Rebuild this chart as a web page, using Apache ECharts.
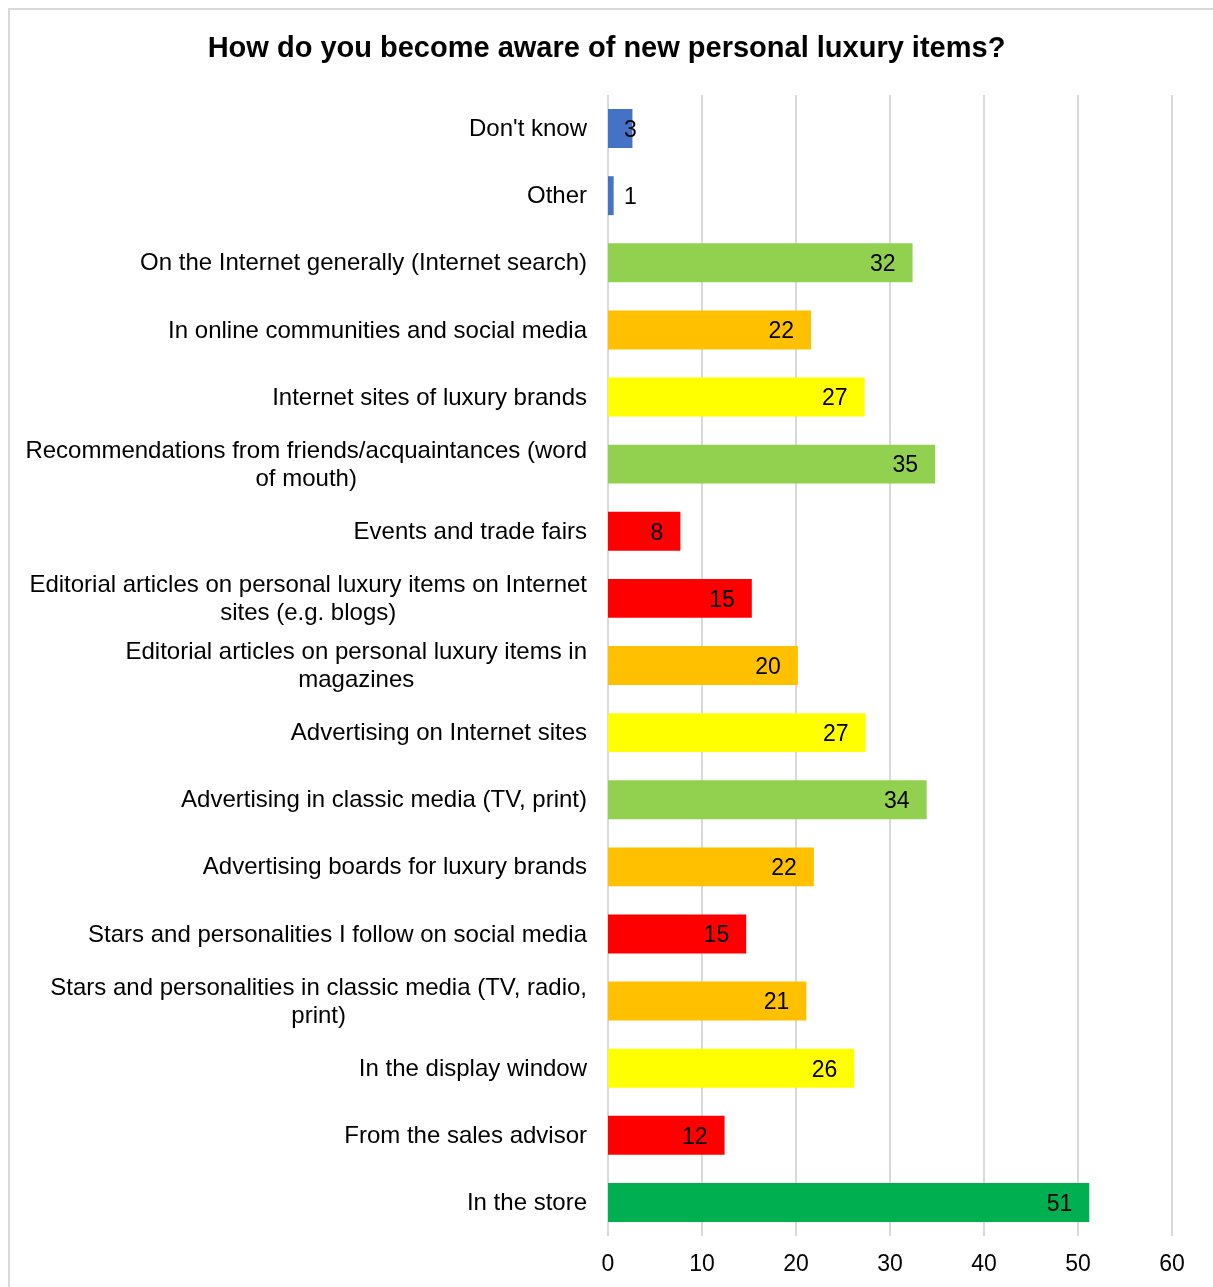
<!DOCTYPE html>
<html>
<head>
<meta charset="utf-8">
<script src="https://cdn.jsdelivr.net/npm/echarts@6/dist/echarts.min.js"></script>
<style>
html,body{margin:0;padding:0;background:#fff;}
#chart{width:1213px;height:1287px;}
</style>
</head>
<body>
<div id="chart"></div>
<script>
const title = "How do you become aware of new personal luxury items?";
const categories = [
  "Don't know",
  "Other",
  "On the Internet generally (Internet search)",
  "In online communities and social media",
  "Internet sites of luxury brands",
  "Recommendations from friends/acquaintances (word of mouth)",
  "Events and trade fairs",
  "Editorial articles on personal luxury items on Internet sites (e.g. blogs)",
  "Editorial articles on personal luxury items in magazines",
  "Advertising on Internet sites",
  "Advertising in classic media (TV, print)",
  "Advertising boards for luxury brands",
  "Stars and personalities I follow on social media",
  "Stars and personalities in classic media (TV, radio, print)",
  "In the display window",
  "From the sales advisor",
  "In the store"
];
const values = [2.6, 0.6, 32.4, 21.6, 27.3, 34.8, 7.7, 15.3, 20.2, 27.4, 33.9, 21.9, 14.7, 21.1, 26.2, 12.4, 51.2];
const barColors = ["#4472C4", "#4472C4", "#92D050", "#FFC000", "#FFFF00", "#92D050", "#FF0000", "#FF0000", "#FFC000", "#FFFF00", "#92D050", "#FFC000", "#FF0000", "#FFC000", "#FFFF00", "#FF0000", "#00B050"];
const xTicks = [0, 10, 20, 30, 40, 50, 60];

const FONT = "Liberation Sans, Arial, sans-serif";
const LABEL_SIZE = 24;
const WRAP_WIDTH = 568;

const ctx = document.createElement('canvas').getContext('2d');
ctx.font = LABEL_SIZE + 'px ' + FONT;
function wrapLines(text) {
  const words = text.split(' ');
  const lines = [];
  let cur = '';
  words.forEach(w => {
    const test = cur ? cur + ' ' + w : w;
    if (cur && ctx.measureText(test).width > WRAP_WIDTH) {
      lines.push(cur);
      cur = w;
    } else {
      cur = test;
    }
  });
  if (cur) lines.push(cur);
  return lines;
}

const chart = echarts.init(document.getElementById('chart'), null, {renderer: 'canvas'});

const data = values.map((v, i) => {
  const d = {value: v, itemStyle: {color: barColors[i]}};
  if (i < 2) {
    d.label = {position: 'insideLeft', distance: 16};
  }
  return d;
});

chart.setOption({
  animation: false,
  backgroundColor: '#fff',
  graphic: [{
    type: 'rect', silent: true, z: -10,
    shape: {x: 9, y: 9, width: 1400, height: 1400},
    style: {fill: null, stroke: '#d9d9d9', lineWidth: 2}
  }],
  title: {
    text: title, left: 'center', top: 29,
    textStyle: {fontFamily: FONT, fontSize: 29, fontWeight: 'bold', color: '#000'}
  },
  grid: {left: 608, right: 41, top: 95, bottom: 51, containLabel: false},
  xAxis: {
    type: 'value', min: xTicks[0], max: xTicks[xTicks.length - 1], interval: 10,
    axisLine: {show: false}, axisTick: {show: false},
    axisLabel: {fontFamily: FONT, fontSize: 23, color: '#000', margin: 17},
    splitLine: {show: true, lineStyle: {color: '#d9d9d9', width: 2}}
  },
  yAxis: {
    type: 'category', data: categories, inverse: true,
    axisLine: {show: false}, axisTick: {show: false},
    axisLabel: {
      fontFamily: FONT, fontSize: LABEL_SIZE, color: '#000', margin: 21,
      align: 'right', lineHeight: 28, padding: [2, 0, 0, 0],
      formatter: v => wrapLines(v).map(l => '{c|' + l + '}').join('\n'),
      rich: {c: {align: 'center', fontFamily: FONT, fontSize: LABEL_SIZE, color: '#000', lineHeight: 28}}
    },
    splitLine: {show: false}
  },
  series: [{
    type: 'bar', data: data, barCategoryGap: '42%',
    label: {
      show: true, position: 'insideRight', distance: 17, offset: [0, 2],
      fontFamily: FONT, fontSize: 23, color: '#000',
      formatter: p => Math.round(p.value)
    }
  }]
});
</script>
</body>
</html>
